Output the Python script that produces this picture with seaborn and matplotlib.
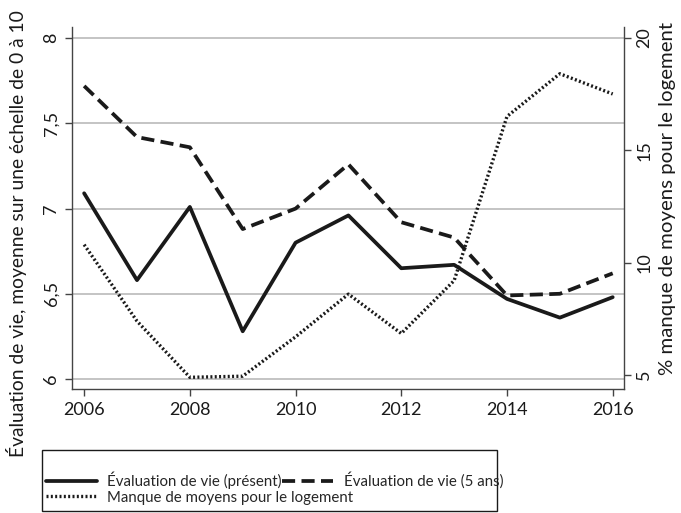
import matplotlib
matplotlib.use("Agg")
import matplotlib.pyplot as plt
import matplotlib.patches as mpatches
import seaborn as sns
import pandas as pd

# ---------------------------------------------------------
# DATA
# ---------------------------------------------------------
years = [2006, 2007, 2008, 2009, 2010, 2011, 2012, 2013, 2014, 2015, 2016]
eval_present = [7.09, 6.58, 7.01, 6.28, 6.80, 6.96, 6.65, 6.67, 6.47, 6.36, 6.48]
eval_5ans = [7.72, 7.42, 7.36, 6.88, 7.00, 7.26, 6.92, 6.83, 6.49, 6.50, 6.62]
manque_logement = [10.8, 7.4, 4.9, 4.95, 6.7, 8.6, 6.85, 9.2, 16.5, 18.4, 17.5]

label_present = "Évaluation de vie (présent)"
label_5ans = "Évaluation de vie (5 ans)"
label_manque = "Manque de moyens pour le logement"

left_ticks = [6, 6.5, 7, 7.5, 8]
left_ticklabels = ["6", "6,5", "7", "7,5", "8"]
right_ticks = [5, 10, 15, 20]
x_ticks = [2006, 2008, 2010, 2012, 2014, 2016]

df = pd.DataFrame({"year": years, "present": eval_present,
                   "cinq": eval_5ans, "manque": manque_logement})

# ---------------------------------------------------------
# STYLE
# ---------------------------------------------------------
sns.set_style("ticks")
plt.rcParams["font.family"] = ["Lato", "DejaVu Sans"]
ink = "#1a1a1a"
fs_tick = 13
fs_leg = 10.8

W, H = 681, 513
fig = plt.figure(figsize=(W / 100, H / 100), dpi=100)
ax = fig.add_axes([0.1057, 0.2417, 0.8103, 0.7053])
ax2 = ax.twinx()

sns.lineplot(data=df, x="year", y="present", ax=ax, color=ink, lw=2.7,
             label=label_present, legend=False)
sns.lineplot(data=df, x="year", y="cinq", ax=ax, color=ink, lw=2.7,
             label=label_5ans, legend=False)
ax.lines[1].set_dashes((3.5, 1.7))
sns.lineplot(data=df, x="year", y="manque", ax=ax2, color=ink, lw=2.4,
             label=label_manque, legend=False)
ax2.lines[0].set_dashes((0.6, 0.7))

# axes
ax.set_xlim(2005.77, 2016.21)
ax.set_ylim(5.941, 8.065)
ax2.set_ylim(4.38, 20.47)

ax.set_xticks(x_ticks)
ax.set_xticklabels([str(x) for x in x_ticks], fontsize=fs_tick)
ax.set_yticks(left_ticks)
ax.set_yticklabels(left_ticklabels, fontsize=fs_tick, rotation=90, va="center")
ax2.set_yticks(right_ticks)
ax2.set_yticklabels([str(t) for t in right_ticks], fontsize=fs_tick, rotation=90, va="center")

ax.grid(axis="y", color="#b4b4b4", lw=1.1)
ax.set_axisbelow(True)

for a in (ax, ax2):
    a.spines["top"].set_visible(False)
    for s in ("left", "right", "bottom"):
        a.spines[s].set_color("#444444")
        a.spines[s].set_linewidth(1.0)
    a.tick_params(colors="#444444", labelcolor=ink, length=5, width=1.0, pad=4)
ax.spines["right"].set_visible(False)
ax2.spines["left"].set_visible(False)
ax2.spines["bottom"].set_visible(False)

ax.set_xlabel("")
ax.set_ylabel("Évaluation de vie, moyenne sur une échelle de 0 à 10", fontsize=12, color=ink)
ax2.set_ylabel("% manque de moyens pour le logement", fontsize=12, color=ink, rotation=90)

# place the axis titles in pixel terms: (x centre, y centre from top, length)
label_spots = [(ax.yaxis.label, 17, 234, 448), (ax2.yaxis.label, 667, 198, 352)]
fig.canvas.draw()
renderer = fig.canvas.get_renderer()
for lab, xc, yc, length in label_spots:
    lab.set_verticalalignment("center")
    lab.set_horizontalalignment("center")
    lab.set_rotation_mode("anchor")
    ext = lab.get_window_extent(renderer)
    lab.set_fontsize(lab.get_fontsize() * length / ext.height)
for lab, xc, yc, length in label_spots:
    axis = ax.yaxis if lab is ax.yaxis.label else ax2.yaxis
    axis.set_label_coords(xc / W, 1 - yc / H, transform=fig.transFigure)

# legend below: first row two entries, second row one entry, one frame round both
h1, l1 = ax.get_legend_handles_labels()
h2, l2 = ax2.get_legend_handles_labels()
leg_kw = dict(fontsize=fs_leg, frameon=False, handlelength=3.4, handletextpad=0.7,
              columnspacing=0.05, borderpad=0, borderaxespad=0)
leg1 = fig.legend(h1, l1, loc="center left", bbox_to_anchor=(0.067, 0.064), ncol=2, **leg_kw)
leg2 = fig.legend(h2, l2, loc="center left", bbox_to_anchor=(0.067, 0.030), ncol=1, **leg_kw)
fig.add_artist(mpatches.Rectangle((0.0617, 0.003), 0.668, 0.120, transform=fig.transFigure,
                                  fill=False, edgecolor=ink, lw=1.0))

fig.savefig("out.png", dpi=100)
